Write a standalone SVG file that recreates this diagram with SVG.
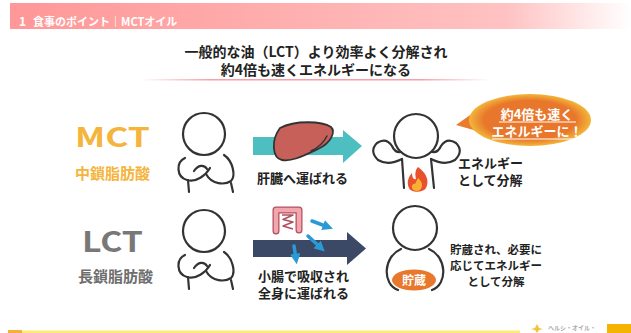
<svg xmlns="http://www.w3.org/2000/svg" width="631" height="333" viewBox="0 0 631 333">
  <style>
    .jp { font-family: "Noto Sans CJK JP", "Noto Sans", sans-serif; font-weight: 700; }
    .ink { fill: none; stroke: #333; stroke-width: 2.2; stroke-linecap: round; stroke-linejoin: round; }
    .lbl { font-size: 13px; fill: #222; }
  </style>
  <defs>
    <linearGradient id="hdr" x1="0" y1="0" x2="1" y2="0">
      <stop offset="0" stop-color="#ff9797"/>
      <stop offset="0.8" stop-color="#ffc2c2"/>
      <stop offset="1" stop-color="#ffffff"/>
    </linearGradient>
    <linearGradient id="rule" x1="0" y1="0" x2="1" y2="0">
      <stop offset="0" stop-color="#f6a0a8" stop-opacity="0"/>
      <stop offset="0.2" stop-color="#f6a0a8"/>
      <stop offset="0.8" stop-color="#f6a0a8"/>
      <stop offset="1" stop-color="#f6a0a8" stop-opacity="0"/>
    </linearGradient>
    <radialGradient id="bubble" cx="0.5" cy="0.5" r="0.5">
      <stop offset="0.75" stop-color="#e8762b"/>
      <stop offset="1" stop-color="#f3b63a"/>
    </radialGradient>
    <!-- figure with arms folded over the belly, head centred on origin -->
    <g id="folded">
      <circle class="ink" cx="0" cy="0" r="21" fill="#fff"/>
      <path class="ink" d="M -19 24 C -28 28 -28 43 -17 46 C -8 49 2 41 6 34"/>
      <path class="ink" d="M -10 37 C -6 31 0 30 3 35"/>
      <path class="ink" d="M 20 21 C 29 27 32 42 27 47 C 21 51 8 51 2 40"/>
      <path class="ink" d="M -16 46 L -15 58 M 27 49 L 29 58"/>
    </g>
    <marker id="blueHead" viewBox="0 0 10 10" refX="5" refY="5" markerWidth="3" markerHeight="3" orient="auto">
      <path d="M0 0 L10 5 L0 10 Z" fill="#2a9ad6"/>
    </marker>
  </defs>

  <rect width="631" height="333" fill="#fff"/>

  <!-- header bar -->
  <g id="header">
    <rect x="10" y="3" width="621" height="26" fill="url(#hdr)"/>
    <text class="jp" x="19" y="26" font-size="12" fill="#fff">1</text>
    <text class="jp" x="33" y="26" font-size="11" fill="#fff">食事のポイント｜MCTオイル</text>
  </g>

  <!-- title -->
  <g id="title">
    <text class="jp" x="316" y="57" font-size="14" fill="#222" text-anchor="middle">一般的な油（LCT）より効率よく分解され</text>
    <text class="jp" x="316" y="75" font-size="14" fill="#222" text-anchor="middle">約4倍も速くエネルギーになる</text>
    <rect x="140" y="79" width="350" height="1.5" fill="url(#rule)"/>
  </g>

  <!-- MCT row -->
  <g id="mct-label">
    <text class="jp" x="75" y="147" font-size="27" fill="#f5b43c" textLength="75" lengthAdjust="spacingAndGlyphs">MCT</text>
    <text class="jp" x="75" y="179" font-size="15" fill="#f5b43c">中鎖脂肪酸</text>
  </g>
  <g id="mct-person">
    <use href="#folded" x="204" y="134"/>
  </g>

  <g id="connectors">
    <!-- MCT: teal arrow toward the liver -->
    <polygon points="253,137 343,137 343,130 362,146 343,163 343,155 253,155" fill="#4dbfc0"/>
    <!-- LCT: dark arrow through the intestine -->
    <polygon points="253,240 347,240 347,232 366,248.5 347,265 347,257 253,257" fill="#3b4866"/>
  </g>

  <g id="liver">
    <path d="M 280 128 C 295 120 322 121 331 127 C 336 132 331 143 318 149 C 305 155 292 162 282 160 C 272 158 271 140 280 128 Z" fill="#c8605a" stroke="#333" stroke-width="1.8" stroke-linejoin="round"/>
    <path d="M 311 151 Q 322 146 327 136" fill="none" stroke="#333" stroke-width="1.5" stroke-linecap="round"/>
    <text class="jp lbl" x="257" y="183">肝臓へ運ばれる</text>
  </g>

  <g id="mct-result">
    <circle class="ink" cx="416" cy="136" r="22" fill="#fff"/>
    <!-- raised fists -->
    <path class="ink" d="M 402 159 Q 388 166 378 160 Q 369 151 377 143 Q 386 137 392 146 Q 395 153 401 152"/>
    <path class="ink" d="M 431 159 Q 445 166 455 160 Q 464 151 456 143 Q 447 137 441 146 Q 438 153 432 152"/>
    <path class="ink" d="M 402 159 L 404 188 M 431 159 L 434 188"/>
    <!-- flame -->
    <path d="M 418 167 C 428 174 429 182 426 188 C 423 193 411 193 409 188 C 406 182 409 176 412 173 C 412 178 414 180 416 179 C 415 175 415 170 418 167 Z" fill="#e9502d"/>
    <path d="M 418 178 C 423 182 423 187 420 190 C 417 192 413 191 412 188 C 411 185 414 183 415 184 C 416 182 417 180 418 178 Z" fill="#f7b034"/>
    <text class="jp lbl" x="458" y="168">エネルギー</text>
    <text class="jp lbl" x="458" y="185">として分解</text>
  </g>

  <g id="speech-bubble">
    <path d="M 473 113 L 456 125 L 477 131 Z" fill="#ea7d2d"/>
    <ellipse cx="530" cy="120" rx="61" ry="26" fill="url(#bubble)"/>
    <text class="jp" x="537" y="119" font-size="13" fill="#fff" text-anchor="middle">約4倍も速く</text>
    <text class="jp" x="537" y="136" font-size="13" fill="#fff" text-anchor="middle">エネルギーに！</text>
    <path d="M 499 122 H 576 M 492 139 H 582" stroke="#fff" stroke-width="1"/>
  </g>

  <!-- LCT row -->
  <g id="lct-label">
    <text class="jp" x="82" y="252" font-size="28" fill="#787878" textLength="61" lengthAdjust="spacingAndGlyphs">LCT</text>
    <text class="jp" x="78" y="282" font-size="15" fill="#6e6e6e" font-weight="500">長鎖脂肪酸</text>
  </g>
  <g id="lct-person">
    <use href="#folded" x="204" y="231"/>
  </g>

  <g id="intestine">
    <path d="M 276 231 L 276 210 L 299 210 L 299 230" fill="none" stroke="#b0505e" stroke-width="7" stroke-linejoin="round" stroke-linecap="round"/>
    <path d="M 276 231 L 276 210 L 299 210 L 299 230" fill="none" stroke="#f3a6ae" stroke-width="4.5" stroke-linejoin="round" stroke-linecap="round"/>
    <path d="M 282 215 L 293 215 L 283 219.5 L 293 222 L 283 226 L 293 229" fill="none" stroke="#b0505e" stroke-width="1.5" stroke-linejoin="round"/>
    <g stroke="#2a9ad6" stroke-width="3.5" stroke-linecap="round" fill="none">
      <path d="M 312 221 L 328 227" marker-end="url(#blueHead)"/>
      <path d="M 308 236 L 321 248" marker-end="url(#blueHead)"/>
      <path d="M 294 246 L 296 259" marker-end="url(#blueHead)"/>
    </g>
    <text class="jp lbl" x="258" y="281">小腸で吸収され</text>
    <text class="jp lbl" x="258" y="298">全身に運ばれる</text>
  </g>

  <g id="lct-result">
    <circle class="ink" cx="415" cy="228" r="22" fill="#fff"/>
    <path class="ink" d="M 401 249 C 383 257 382 284 398 290 M 429 249 C 447 257 448 284 432 290"/>
    <ellipse cx="414" cy="280" rx="22" ry="10.5" fill="#e8782c"/>
    <text class="jp" x="414" y="284.5" font-size="12" fill="#fff" text-anchor="middle" font-weight="500">貯蔵</text>
    <text class="jp" x="496" y="254" font-size="11.5" fill="#222" text-anchor="middle">貯蔵され、必要に</text>
    <text class="jp" x="496" y="270" font-size="11.5" fill="#222" text-anchor="middle">応じてエネルギー</text>
    <text class="jp" x="496" y="286" font-size="11.5" fill="#222" text-anchor="middle">として分解</text>
  </g>

  <!-- footer strip -->
  <g id="footer">
    <rect x="8" y="330.5" width="512" height="2.5" fill="#ffea7a"/>
    <rect x="8" y="330" width="14" height="3" fill="#f5b03c"/>
    <path d="M 537 324 L 539 328 L 543 329 L 539 330 L 537 333 L 535 330 L 531 329 L 535 328 Z" fill="#f3c23a"/>
    <text class="jp" x="548" y="330" font-size="6" fill="#aaa" font-weight="400">ヘルシ・オイル・</text>
    <rect x="607" y="324" width="24" height="9" fill="#f5b400"/>
  </g>
</svg>
